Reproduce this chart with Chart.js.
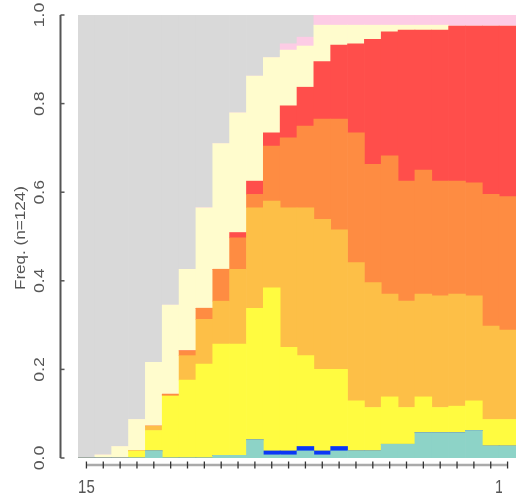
<!DOCTYPE html>
<html>
<head>
<meta charset="utf-8">
<script src="https://cdn.jsdelivr.net/npm/chart.js@4/dist/chart.umd.min.js"></script>
<style>
  body { margin: 0; background: #fff; }
  canvas { display: block; }
</style>
</head>
<body>
<canvas id="freqChart" width="516" height="496"></canvas>
<script>
// x categories (every 5 units) and the two labels R printed under the axis
const categories = [15, 20, 25, 30, 35, 40, 45, 50, 55, 60, 65, 70, 75, 80, 85, 90, 95, 100, 105, 110, 115, 120, 125, 130, 135, 140];
const shownTicks = ['15', '140'];
const yTicks = [0, 0.2, 0.4, 0.6, 0.8, 1.0];

// stacked proportions, bottom to top
const teal =        [0, 0, 0, 0, 0.016, 0, 0, 0, 0.006, 0.006, 0.041, 0.007, 0.007, 0.016, 0.007, 0.016, 0.016, 0.016, 0.031, 0.031, 0.057, 0.057, 0.057, 0.062, 0.027, 0.027];
const blue =        [0, 0, 0, 0, 0, 0, 0, 0, 0, 0, 0, 0.009, 0.009, 0.010, 0.009, 0.010, 0, 0, 0, 0, 0, 0, 0, 0, 0, 0];
const yellow =      [0, 0, 0, 0.016, 0.046, 0.140, 0.176, 0.212, 0.251, 0.251, 0.297, 0.368, 0.234, 0.205, 0.184, 0.174, 0.113, 0.098, 0.107, 0.083, 0.081, 0.057, 0.060, 0.067, 0.060, 0.060];
const lightOrange = [0, 0, 0, 0, 0.010, 0, 0.055, 0.101, 0.097, 0.169, 0.227, 0.196, 0.315, 0.334, 0.339, 0.315, 0.312, 0.282, 0.232, 0.240, 0.232, 0.252, 0.253, 0.237, 0.211, 0.202];
const orange =      [0, 0, 0, 0, 0, 0.004, 0.011, 0.025, 0.072, 0.071, 0.030, 0.124, 0.158, 0.184, 0.226, 0.250, 0.293, 0.267, 0.312, 0.271, 0.280, 0.259, 0.255, 0.255, 0.297, 0.301];
const red =         [0, 0, 0, 0, 0, 0, 0, 0, 0, 0.012, 0.030, 0.030, 0.072, 0.088, 0.130, 0.167, 0.201, 0.282, 0.280, 0.341, 0.316, 0.341, 0.350, 0.354, 0.380, 0.385];
const lightYellow = [0, 0.007, 0.026, 0.071, 0.144, 0.201, 0.184, 0.227, 0.284, 0.270, 0.237, 0.170, 0.126, 0.093, 0.082, 0.045, 0.042, 0.032, 0.015, 0.011, 0.011, 0.011, 0, 0, 0, 0];
const pink =        [0, 0, 0, 0, 0, 0, 0, 0, 0, 0, 0, 0, 0.014, 0.020, 0.023, 0.023, 0.023, 0.023, 0.023, 0.023, 0.023, 0.023, 0.025, 0.025, 0.025, 0.025];
const grey =        [1.0, 0.993, 0.974, 0.913, 0.784, 0.655, 0.574, 0.435, 0.290, 0.221, 0.138, 0.096, 0.065, 0.050, 0, 0, 0, 0, 0, 0, 0, 0, 0, 0, 0, 0];

const series = [
  { data: teal, color: '#8DD3C7' },
  { data: blue, color: '#0A37F5' },
  { data: yellow, color: '#FFFB40' },
  { data: lightOrange, color: '#FDBF47' },
  { data: orange, color: '#FE8C42' },
  { data: red, color: '#FF4E4B' },
  { data: lightYellow, color: '#FFFCCD' },
  { data: pink, color: '#FDCCE5' },
  { data: grey, color: '#D9D9D9' }
];

const textColor = '#555';
const fontFamily = '"Liberation Sans", Arial, sans-serif';
const stretch = 1.18; // text is a little taller than it is wide

// R-style detached axes, drawn from the chart's own scales
const rAxes = {
  id: 'rAxes',
  afterDraw(chart) {
    const ctx = chart.ctx;
    const xs = chart.scales.x;
    const ys = chart.scales.y;
    ctx.save();

    // y axis
    const ax = 60.5;
    ctx.strokeStyle = '#555';
    ctx.lineWidth = 2;
    ctx.beginPath();
    ctx.moveTo(ax, ys.getPixelForValue(0));
    ctx.lineTo(ax, ys.getPixelForValue(1));
    ctx.stroke();
    ctx.lineWidth = 1.5;
    ctx.font = '15px ' + fontFamily;
    ctx.fillStyle = textColor;
    ctx.textAlign = 'center';
    ctx.textBaseline = 'middle';
    yTicks.forEach(v => {
      const py = ys.getPixelForValue(v);
      ctx.beginPath();
      ctx.moveTo(ax, py);
      ctx.lineTo(ax + 4, py);
      ctx.stroke();
      ctx.save();
      ctx.translate(40, py);
      ctx.scale(1, stretch);
      ctx.rotate(-Math.PI / 2);
      ctx.fillText(v.toFixed(1), 0, 0);
      ctx.restore();
    });

    // y title
    ctx.save();
    ctx.font = '14.5px ' + fontFamily;
    ctx.translate(21, 238);
    ctx.scale(1, stretch);
    ctx.rotate(-Math.PI / 2);
    ctx.fillText('Freq. (n=124)', 0, 0);
    ctx.restore();

    // x axis
    const ay = 465;
    const first = xs.getPixelForTick(0);
    const last = xs.getPixelForTick(categories.length - 1);
    ctx.strokeStyle = '#aaa';
    ctx.lineWidth = 2.5;
    ctx.beginPath();
    ctx.moveTo(first, ay);
    ctx.lineTo(last, ay);
    ctx.stroke();
    ctx.strokeStyle = '#333';
    ctx.lineWidth = 1.3;
    categories.forEach((c, i) => {
      const px = xs.getPixelForTick(i);
      ctx.beginPath();
      ctx.moveTo(px, ay - 3.5);
      ctx.lineTo(px, ay + 3.5);
      ctx.stroke();
    });

    // x labels; the right one runs off the device region
    ctx.save();
    ctx.beginPath();
    ctx.rect(0, 470, 502, 26);
    ctx.clip();
    ctx.font = '15px ' + fontFamily;
    categories.forEach((c, i) => {
      const label = String(c);
      if (shownTicks.includes(label)) {
        ctx.save();
        ctx.translate(xs.getPixelForTick(i), 488);
        ctx.scale(1, stretch);
        ctx.fillText(label, 0, 0);
        ctx.restore();
      }
    });
    ctx.restore();
    ctx.restore();
  }
};

new Chart(document.getElementById('freqChart'), {
  type: 'bar',
  data: {
    labels: categories,
    datasets: series.map(s => ({
      data: s.data,
      backgroundColor: s.color,
      borderWidth: 0,
      categoryPercentage: 1.0,
      barPercentage: 1.0
    }))
  },
  options: {
    responsive: false,
    animation: false,
    layout: { padding: { top: 15, right: -5, left: 0, bottom: 0 } },
    plugins: { legend: { display: false }, tooltip: { enabled: false } },
    scales: {
      x: {
        stacked: true,
        grid: { display: false },
        border: { display: false },
        ticks: { display: false },
        afterFit(scale) { scale.height = 38; }
      },
      y: {
        stacked: true,
        min: 0,
        max: 1,
        grid: { display: false },
        border: { display: false },
        ticks: { display: false },
        afterFit(scale) { scale.width = 78; }
      }
    }
  },
  plugins: [rAxes]
});
</script>
</body>
</html>
